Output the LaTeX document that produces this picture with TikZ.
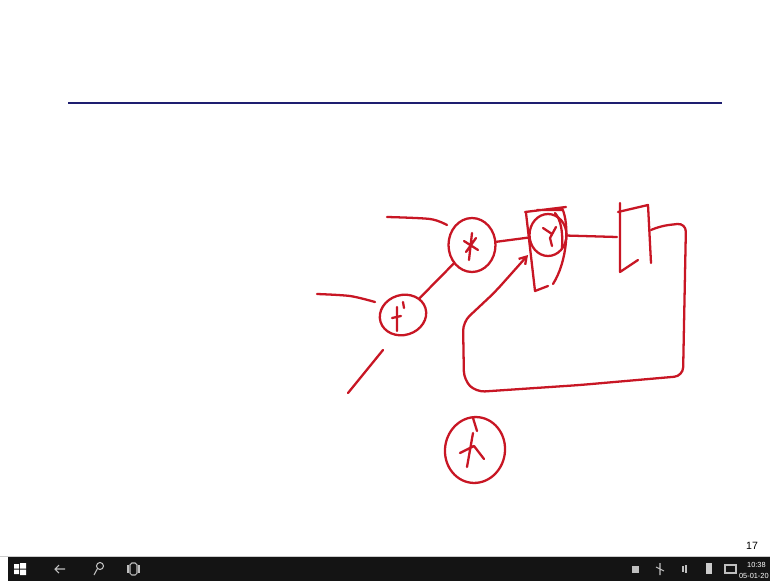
\documentclass[tikz,border=0pt]{standalone}
\usepackage{fontspec}
\setmainfont{Liberation Sans}
\usetikzlibrary{shapes.geometric,arrows.meta}
\definecolor{pen}{RGB}{200,22,36}
\definecolor{navy}{RGB}{30,30,112}
\tikzset{
  ink/.style={pen, line width=1.3pt, line cap=round, line join=round},
  router/.style={ink, draw, ellipse, inner sep=0pt},
  tray/.style={white!75!black, line width=0.6pt}
}
\begin{document}
\begin{tikzpicture}[x=0.02cm, y=-0.02cm]
    \useasboundingbox (0,0) rectangle (770,581);
    \fill[white] (0,0) rectangle (770,581);

    % title rule
    \draw[navy, line width=1.7pt] (68,103) -- (722,103);

    % routers
    \node[router, minimum width=0.94cm, minimum height=1.08cm] (ra) at (472,245) {};
    \node[router, minimum width=0.74cm, minimum height=0.84cm] (rb) at (548,235) {};
    \node[router, minimum width=0.94cm, minimum height=0.8cm, rotate=17] (rc) at (403,315) {};
    \node[router, minimum width=1.2cm, minimum height=1.32cm, rotate=-8] (rd) at (475,450) {};

    % marks inside the routers
    \draw[ink] (472,233) -- (469,260) (464,241) -- (478,250) (466,252) -- (476,238);
    \draw[ink] (543,228) -- (552,234) (556,227) -- (550,238) -- (552,246);
    \draw[ink] (397,307) -- (397,331) (392,318) -- (401,316) (403,302) -- (404,308);
    \draw[ink] (473,433) -- (467,467) (460,453) -- (474,446) -- (484,459) (473,418) -- (477,431);

    % box round router B
    \draw[ink] (526,213) -- (535,291) -- (548,286);
    \draw[ink] (525,212) -- (566,207) (537,210) -- (562,210);
    \draw[ink] (562,208) .. controls (570,225) and (567,262) .. (553,284);
    \draw[ink] (555,213) .. controls (561,220) and (563,232) .. (562,248);

    % switch
    \draw[ink] (620,203) -- (620,272) -- (638,260);
    \draw[ink] (618,212) -- (648,205) -- (651,263);
    \coordinate (swl) at (617,237);
    \coordinate (swr) at (651,230);

    % links
    \draw[ink] (ra) -- (rb);
    \draw[ink] (ra) -- (rc);
    \draw[ink] (rb) -- (swl);
    \draw[ink] plot[smooth] coordinates {(387,217) (430,219) (447,225)};
    \draw[ink] plot[smooth] coordinates {(317,294) (350,296) (375,302)};
    \draw[ink] (383,350) -- (348,393);

    % loop back into router B
    \coordinate (tip) at (528,255);
    \draw[ink, rounded corners=5pt, -{Straight Barb[length=4pt, width=5pt]}]
        (swr) -- (660,226) -- (686,223) -- (683,376) -- (580,385) -- (476,392)
        -- (464,380) -- (463,322) -- (495,292) -- (tip);

    % task bar
    \draw[white!80!black, line width=0.5pt] (0,556) -- (770,556);
    \fill[black!92] (8,557) rectangle (770,581);
    \node[font=\fontsize{6}{7}\selectfont, anchor=south] (page) at (752,556) {17};
    \node[white, font=\fontsize{4.2}{5}\selectfont, anchor=east, inner sep=0pt] (clock) at (766,565) {10:38};
    \node[white, font=\fontsize{4.2}{5}\selectfont, anchor=east, inner sep=0pt] (date) at (769,576) {05-01-20};

    % task bar icons
    \fill[white] (14,564) rectangle (19,568.5) (20,563) rectangle (26,568.5)
                 (14,569.5) rectangle (19,574) (20,569.5) rectangle (26,575);
    \draw[tray] (55,569) -- (65,569) (59,565) -- (55,569) -- (59,573);
    \draw[tray] (100,566) circle (3.5) (97.5,568.5) -- (94,575);
    \draw[tray, rounded corners=1pt] (130,563) rectangle (137,575);
    \draw[tray] (128,565) -- (128,573) (139,565) -- (139,573);
    \fill[white!75!black] (632,566) rectangle (639,573);
    \draw[tray] (660,563) -- (660,575) (656,567) -- (664,571);
    \draw[tray] (683,566) -- (683,572) (686,565) -- (686,573);
    \fill[white!80!black] (706,563) rectangle (712,574);
    \draw[tray] (725,565) rectangle (736,573);
\end{tikzpicture}
\end{document}
